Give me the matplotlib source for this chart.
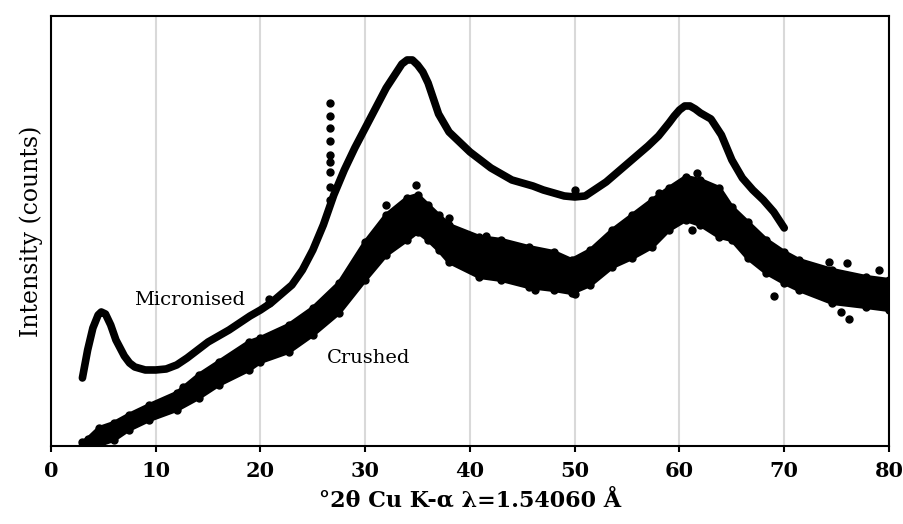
import matplotlib
matplotlib.use("Agg")
import matplotlib.pyplot as plt

plt.rcParams['font.family'] = ['DejaVu Serif']

# Micronised pattern (arbitrary counts)
micro_2theta = [3.0, 3.5, 4.0, 4.5, 4.8, 5.2, 5.7, 6.2, 7.0, 7.5, 8.0, 9.0, 10.0, 11.0,
                12.0, 13.0, 14.0, 15.0, 16.0, 17.0, 18.0, 19.0, 20.0, 21.0,
                22.0, 23.0, 24.0, 25.0, 26.0, 26.5, 27.0, 28.0, 29.0, 30.0, 31.0, 32.0,
                33.0, 33.5, 34.0, 34.5, 35.0, 35.5, 36.0, 37.0, 38.0, 39.0, 40.0, 41.0,
                42.0, 43.0, 44.0, 45.0, 46.0, 47.0, 48.0, 49.0, 50.0, 51.0, 52.0, 53.0,
                54.0, 55.0, 56.0, 57.0, 58.0, 59.0, 59.5, 60.0, 60.5, 61.0, 61.5, 62.0,
                63.0, 64.0, 65.0, 66.0, 67.0, 68.0, 69.0, 70.0]
micro_counts = [340, 480, 590, 655, 670, 660, 605, 530, 450, 415, 395, 380, 380, 385,
                405, 440, 480, 520, 550, 580, 615, 650, 680, 715,
                760, 805, 880, 980, 1105, 1180, 1255, 1380, 1490, 1590, 1690, 1790,
                1870, 1910, 1930, 1930, 1905, 1870, 1815, 1660, 1570, 1520, 1470, 1430,
                1390, 1360, 1330, 1315, 1300, 1280, 1265, 1250, 1245, 1250, 1285, 1320,
                1365, 1410, 1455, 1500, 1550, 1615, 1650, 1680, 1700, 1700, 1685, 1665,
                1635, 1555, 1430, 1340, 1280, 1230, 1170, 1090]

# isolated points above the micronised trace (sharp reflections)
spike_2theta = [20.8, 20.8, 26.6, 26.6, 26.6, 26.6, 26.6, 26.6, 26.6, 26.6, 26.6,
                50.0, 50.0]
spike_counts = [735, 715, 1715, 1650, 1590, 1525, 1455, 1420, 1370, 1295, 1230,
                1280, 1260]

# Crushed pattern: scatter band, lower and upper edges
crush_2theta = [3.0, 3.5, 4.6, 6.0, 7.4, 9.4, 12.0, 14.1, 16.0, 18.9, 20.0, 22.7, 25.0,
                27.5, 30.0, 32.0, 34.0, 35.0, 36.0, 37.0, 38.0, 40.9, 43.0, 45.6, 48.0,
                49.7, 51.5, 53.6, 55.5, 57.4, 59.0, 60.6, 62.0, 63.8, 65.0, 66.5, 68.3,
                70.0, 71.4, 74.6, 77.8, 80.0]
crush_hi = [20, 35, 90, 115, 155, 205, 265, 355, 420, 520, 540, 605, 690,
            815, 1020, 1155, 1240, 1255, 1205, 1155, 1105, 1045, 1030, 995, 970,
            930, 980, 1080, 1155, 1230, 1290, 1345, 1330, 1290, 1195, 1120, 1030,
            970, 930, 880, 845, 830]
crush_lo = [0, 5, 5, 30, 80, 130, 180, 240, 305, 380, 420, 470, 555,
            665, 830, 955, 1030, 1070, 1030, 980, 920, 845, 830, 795, 780,
            765, 805, 895, 940, 995, 1080, 1130, 1105, 1045, 1030, 940, 865,
            815, 780, 715, 695, 680]

# stray points outside the band
stray_2theta = [12.6, 15.8, 32.0, 34.8, 38.0, 41.5, 46.2, 50.0, 58.0, 61.2, 61.7,
                69.0, 74.3, 75.4, 76.0, 76.2, 79.0]
stray_counts = [295, 370, 1205, 1305, 1140, 1050, 780, 760, 1265, 1080, 1365,
                750, 920, 670, 915, 635, 880]

fig = plt.figure(figsize=(9.04, 5.24), dpi=100)
ax = fig.add_axes([0.0564, 0.1489, 0.927, 0.8206])

ax.grid(axis="x", color="#d9d9d9", linewidth=1.5)
ax.set_axisbelow(True)

ax.plot(micro_2theta, micro_counts, color="black", lw=5.5, solid_capstyle="round",
        solid_joinstyle="round")
ax.plot(spike_2theta, spike_counts, "o", color="black", ms=5)

ax.fill_between(crush_2theta, crush_lo, crush_hi, color="black", lw=0)
ax.plot(crush_2theta, crush_hi, "o-", color="black", lw=3, ms=5)
ax.plot(crush_2theta, crush_lo, "o-", color="black", lw=3, ms=5)
ax.plot(stray_2theta, stray_counts, "o", color="black", ms=5)

ax.text(13.2, 730, "Micronised", fontsize=14, ha="center", va="center")
ax.text(30.3, 440, "Crushed", fontsize=14, ha="center", va="center")

ax.set_xlim(0, 80)
ax.set_ylim(0, 2150)
ax.set_xticks(range(0, 81, 10))
ax.set_yticks([])
ax.tick_params(axis="x", direction="out", length=4, width=1.5, pad=7,
               labelsize=15)
for lab in ax.get_xticklabels():
    lab.set_fontweight("bold")
for s in ax.spines.values():
    s.set_linewidth(1.5)

ax.set_xlabel("°2θ Cu K-α λ=1.54060 Å", fontsize=16, fontweight="bold", labelpad=6)
ax.set_ylabel("Intensity (counts)", fontsize=17, labelpad=6)

fig.savefig("out.png", dpi=100)
